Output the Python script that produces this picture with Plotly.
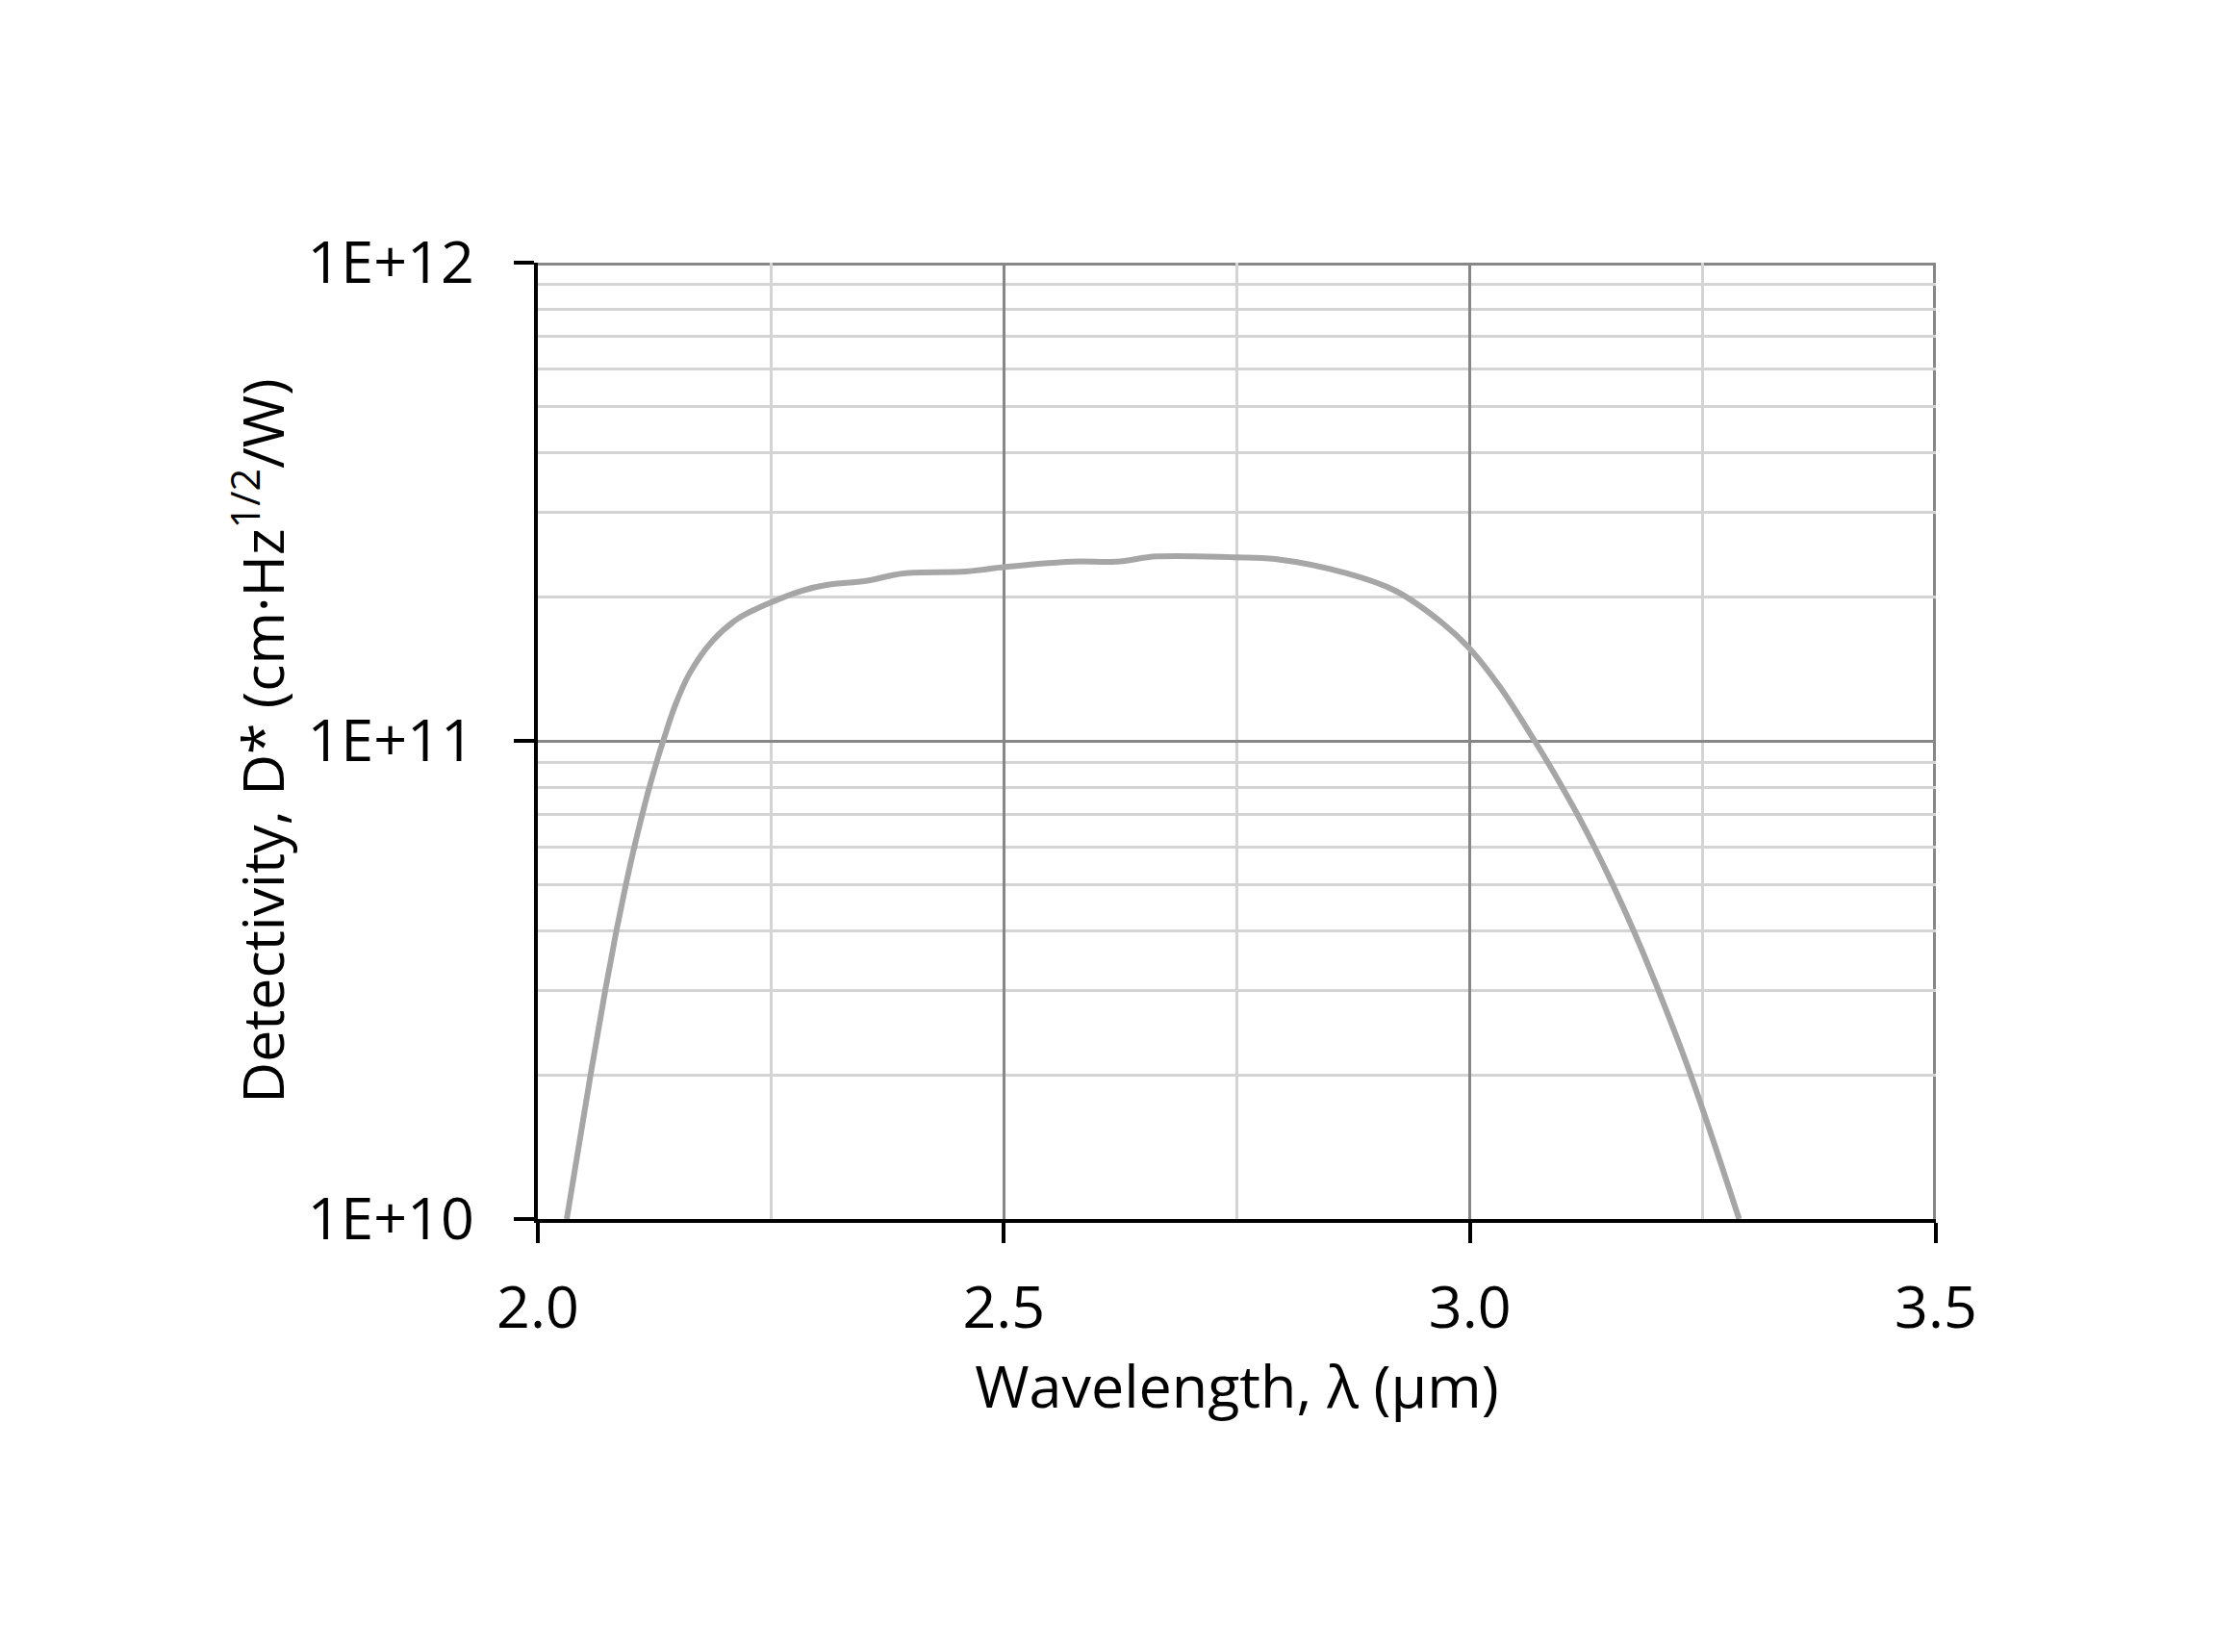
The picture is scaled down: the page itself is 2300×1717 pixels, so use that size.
import plotly.graph_objects as go

# Data
wavelength_um = [2.031, 2.0565, 2.0722, 2.0842, 2.0944, 2.1035, 2.1119, 2.1197, 2.1272, 2.1345,
                 2.1473, 2.1628, 2.1868, 2.2144, 2.2454, 2.283, 2.311, 2.352, 2.392, 2.459,
                 2.501, 2.573, 2.621, 2.664, 2.747, 2.791, 2.868, 2.920, 2.971, 3.001,
                 3.033, 3.0695, 3.0838, 3.0991, 3.1157, 3.1336, 3.1534, 3.1759, 3.2025, 3.237,
                 3.2889]
detectivity = [1.0e10, 2.0e10, 3.0e10, 4.0e10, 5.0e10, 6.0e10, 7.0e10, 8.0e10, 9.0e10, 1.0e11,
               1.186e11, 1.384e11, 1.614e11, 1.80e11, 1.93e11, 2.06e11, 2.12e11, 2.16e11, 2.24e11, 2.26e11,
               2.31e11, 2.37e11, 2.37e11, 2.43e11, 2.42e11, 2.40e11, 2.24e11, 2.06e11, 1.76e11, 1.55e11,
               1.29e11, 1.0e11, 9.0e10, 8.0e10, 7.0e10, 6.0e10, 5.0e10, 4.0e10, 3.0e10, 2.0e10,
               1.0e10]

x_ticks = [2.0, 2.5, 3.0, 3.5]
x_tick_text = ["2.0", "2.5", "3.0", "3.5"]
x_minor = [2.25, 2.75, 3.25]
y_ticks = [1e10, 1e11, 1e12]
y_tick_text = ["1E+10", "1E+11", "1E+12"]
y_minor = [m * 10 ** e for e in (10, 11) for m in range(2, 10)]

FONT = "Open Sans"
MAJOR_GRID = "#878787"
MINOR_GRID = "#d4d4d4"

fig = go.Figure()
fig.add_trace(go.Scatter(
    x=wavelength_um, y=detectivity, mode="lines",
    line=dict(color="#a6a6a6", width=6, shape="spline", smoothing=1.0),
    showlegend=False, hoverinfo="skip",
))

# Major gridlines at the far edges (top 1E+12 and right 3.5); half is clipped, so width doubled
fig.add_shape(type="line", xref="x", yref="paper", x0=x_ticks[-1], x1=x_ticks[-1], y0=0, y1=1,
              line=dict(color=MAJOR_GRID, width=6), layer="below")
fig.add_shape(type="line", xref="paper", yref="y", x0=0, x1=1,
              y0=y_ticks[-1], y1=y_ticks[-1],
              line=dict(color=MAJOR_GRID, width=6), layer="below")

fig.update_layout(
    width=2300, height=1717,
    paper_bgcolor="white", plot_bgcolor="white",
    margin=dict(l=551, r=296, t=265, b=458, autoexpand=False),
    font=dict(family=FONT, size=61, color="black"),
    xaxis=dict(
        range=[2.0, 3.5], tickmode="array", tickvals=x_ticks, ticktext=x_tick_text,
        showgrid=True, gridcolor=MAJOR_GRID, gridwidth=3,
        minor=dict(tickmode="array", tickvals=x_minor, showgrid=True,
                   gridcolor=MINOR_GRID, gridwidth=3, ticks=""),
        showline=True, linecolor="black", linewidth=4,
        ticks="outside", ticklen=21, tickwidth=4, tickcolor="black",
        ticklabelstandoff=15,
        tickfont=dict(family=FONT, size=61, color="black"),
        title=dict(text="Wavelength, λ (μm)", font=dict(family=FONT, size=61, color="black"), standoff=5),
        zeroline=False,
    ),
    yaxis=dict(
        type="log", range=[10, 12], tickmode="array", tickvals=y_ticks, ticktext=y_tick_text,
        showgrid=True, gridcolor=MAJOR_GRID, gridwidth=3,
        minor=dict(tickmode="array", tickvals=y_minor, showgrid=True,
                   gridcolor=MINOR_GRID, gridwidth=3, ticks=""),
        showline=True, linecolor="black", linewidth=4,
        ticks="outside", ticklen=21, tickwidth=4, tickcolor="black",
        ticklabelstandoff=29,
        tickfont=dict(family=FONT, size=61, color="black"),
        title=dict(text="Detectivity, D* (cm·Hz<sup>1/2</sup>/W)", font=dict(family=FONT, size=59, color="black"), standoff=6),
        zeroline=False,
    ),
)

fig.write_html("out.html")
